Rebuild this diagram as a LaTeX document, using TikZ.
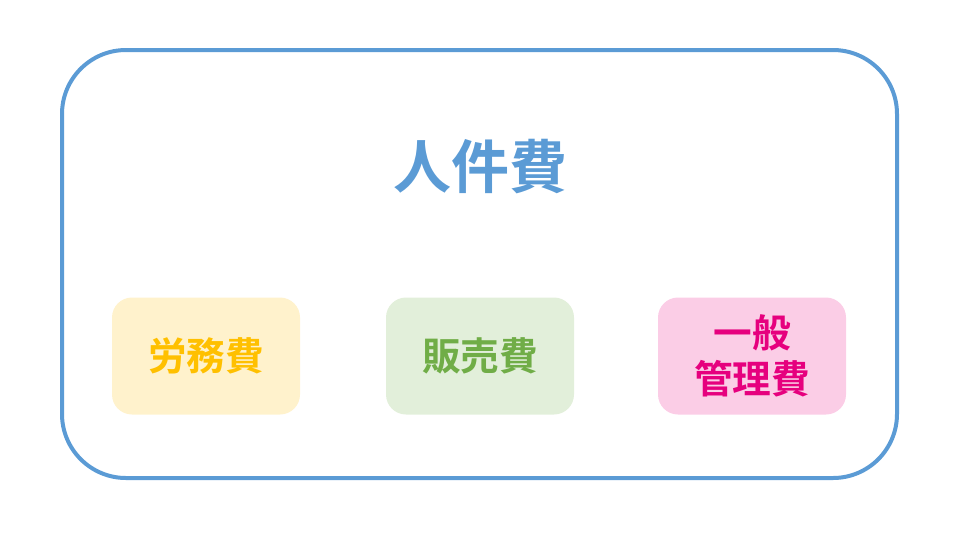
\documentclass[tikz,border=0pt]{standalone}
\usepackage{fontspec}
\setmainfont{Noto Sans CJK JP}[BoldFont={Noto Sans CJK JP Bold}]
\usetikzlibrary{positioning}
\definecolor{frameblue}{HTML}{5B9BD5}
\definecolor{laborfill}{HTML}{FFF2CC}
\definecolor{labortext}{HTML}{FFC000}
\definecolor{salesfill}{HTML}{E2EFDA}
\definecolor{salestext}{HTML}{70AD47}
\definecolor{adminfill}{HTML}{FBCDE6}
\definecolor{admintext}{HTML}{E6007E}

\begin{document}
\begin{tikzpicture}[
  x=0.75pt, y=-0.75pt,
  every node/.style={font=\bfseries, align=center},
  cost/.style={rounded corners=15pt, minimum width=141pt, minimum height=87.75pt, inner sep=0pt, font=\fontsize{29}{34.5}\selectfont\bfseries}
]
\useasboundingbox (0,0) rectangle (960,540);

% Frame
\node[draw=frameblue, line width=3pt, rounded corners=48pt,
      minimum width=626.25pt, minimum height=321pt] (frame) at (479.5,264) {};

% Title
\node[text=frameblue, font=\fontsize{43.5}{50}\selectfont\bfseries] (title) at (480,167) {人件費};

% Cost items
\node[cost, fill=laborfill, text=labortext] (labor) at (206,356) {労務費};
\node[cost, fill=salesfill, text=salestext] (sales) at (480,356) {販売費};
\node[cost, fill=adminfill, text=admintext] (admin) at (752,356) {一般\\管理費};

\end{tikzpicture}
\end{document}
